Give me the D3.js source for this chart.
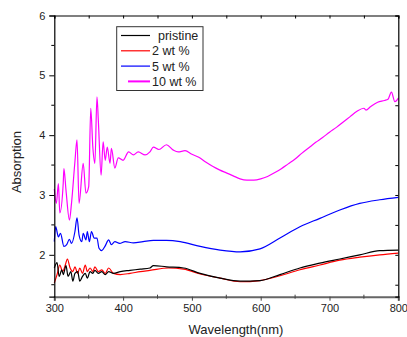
<!DOCTYPE html>
<html>
<head>
<meta charset="utf-8">
<script src="https://cdn.jsdelivr.net/npm/d3@7"></script>
<style>
  body { margin: 0; background: #fff; }
  text { font-family: Arial, "Liberation Sans", sans-serif; fill: #222; }
</style>
</head>
<body>
<div id="chart"></div>
<script>
// series: wavelength (nm) and absorption
const seriesNames = ["pristine", "2 wt %", "5 wt %", "10 wt %"];
const seriesColors = ["#000000", "#ff0000", "#0000ff", "#ff00ff"];

const pristineW = [300, 304, 307, 311, 313, 317, 320, 324, 327, 330, 334, 337, 341, 345, 348, 352, 356, 359, 364, 369, 374, 379, 386, 396, 410, 425, 439, 444, 463, 488, 512, 541, 570, 599, 628, 657, 686, 715, 744, 773, 800];
const pristineA = [1.78, 1.87, 1.64, 1.75, 1.67, 1.82, 1.64, 1.72, 1.56, 1.69, 1.72, 1.56, 1.64, 1.69, 1.61, 1.72, 1.69, 1.74, 1.69, 1.72, 1.67, 1.72, 1.69, 1.72, 1.74, 1.76, 1.78, 1.82, 1.8, 1.78, 1.69, 1.61, 1.56, 1.57, 1.67, 1.78, 1.86, 1.93, 2.0, 2.07, 2.08];

const wt2W = [300, 304, 308, 312, 316, 319, 323, 327, 330, 334, 337, 341, 345, 348, 352, 356, 359, 364, 369, 374, 379, 386, 396, 410, 425, 439, 466, 488, 512, 541, 570, 599, 628, 657, 686, 715, 744, 773, 800];
const wt2A = [1.53, 1.67, 1.83, 1.72, 1.83, 1.93, 1.78, 1.72, 1.8, 1.69, 1.78, 1.69, 1.83, 1.72, 1.78, 1.72, 1.8, 1.72, 1.75, 1.69, 1.78, 1.69, 1.67, 1.69, 1.72, 1.74, 1.78, 1.76, 1.68, 1.61, 1.55, 1.57, 1.65, 1.75, 1.83, 1.91, 1.96, 2.0, 2.03];

const wt5W = [300, 302, 306, 309, 314, 318, 322, 325, 330, 333, 336, 340, 342, 346, 348, 351, 354, 358, 362, 365, 369, 374, 379, 383, 388, 395, 403, 415, 429, 444, 463, 483, 512, 541, 570, 599, 628, 657, 686, 715, 744, 773, 800];
const wt5A = [2.22, 2.47, 2.3, 2.36, 2.14, 2.17, 2.26, 2.19, 2.39, 2.62, 2.33, 2.22, 2.36, 2.25, 2.39, 2.22, 2.39, 2.28, 2.28, 2.11, 2.07, 2.15, 2.25, 2.17, 2.22, 2.19, 2.22, 2.2, 2.22, 2.24, 2.24, 2.22, 2.14, 2.08, 2.05, 2.1, 2.28, 2.47, 2.61, 2.75, 2.86, 2.92, 2.96];

const wt10W = [300, 303, 306, 308, 313, 314, 317, 322, 325, 330, 333, 336, 342, 346, 350, 353, 356, 359, 362, 364, 368, 371, 374, 377, 381, 383, 388, 393, 400, 408, 415, 422, 432, 439, 444, 452, 463, 473, 480, 490, 500, 510, 520, 530, 540, 550, 560, 570, 580, 590, 600, 610, 620, 630, 640, 650, 660, 670, 680, 690, 700, 710, 720, 730, 740, 750, 753, 760, 770, 780, 785, 790, 795, 800];
const wt10A = [3.1, 2.86, 3.19, 2.7, 3.2, 3.44, 3.08, 2.58, 2.86, 3.56, 3.92, 2.86, 3.53, 3.03, 3.14, 4.45, 3.8, 3.53, 4.64, 4.25, 3.33, 3.89, 3.58, 3.8, 3.53, 3.78, 3.45, 3.62, 3.58, 3.72, 3.67, 3.72, 3.67, 3.72, 3.8, 3.76, 3.84, 3.75, 3.72, 3.74, 3.68, 3.63, 3.55, 3.48, 3.42, 3.37, 3.32, 3.27, 3.25, 3.25, 3.27, 3.31, 3.37, 3.44, 3.52, 3.6, 3.7, 3.79, 3.88, 3.96, 4.05, 4.13, 4.22, 4.31, 4.4, 4.45, 4.42, 4.48, 4.55, 4.58, 4.6, 4.72, 4.56, 4.62];

const xTicks = [300, 400, 500, 600, 700, 800];
const yTicks = [2, 3, 4, 5, 6];

const series = [
  { name: seriesNames[0], color: seriesColors[0], w: pristineW, a: pristineA },
  { name: seriesNames[1], color: seriesColors[1], w: wt2W, a: wt2A },
  { name: seriesNames[2], color: seriesColors[2], w: wt5W, a: wt5A },
  { name: seriesNames[3], color: seriesColors[3], w: wt10W, a: wt10A },
];

const width = 407, height = 337;
const plot = { left: 54.3, right: 398.3, top: 15.5, bottom: 296.7 };

const svg = d3.select("#chart").append("svg")
  .attr("width", width)
  .attr("height", height);

const xScale = d3.scaleLinear().domain([300, 800]).range([plot.left, plot.right]);
const yScale = d3.scaleLinear().domain([1.3, 6]).range([plot.bottom, plot.top]);

// curves
const line = d3.line()
  .x((d) => xScale(d[0]))
  .y((d) => yScale(d[1]))
  .curve(d3.curveMonotoneX);
svg.append("g").selectAll("path")
  .data(series.slice().reverse())
  .enter()
  .append("path")
  .attr("fill", "none")
  .attr("stroke", (d) => d.color)
  .attr("stroke-width", 1.2)
  .attr("stroke-linejoin", "round")
  .attr("d", (d) => line(d.w.map((w, i) => [w, d.a[i]])));

// bottom axis
const xAxis = svg.append("g")
  .attr("transform", `translate(0,${plot.bottom})`)
  .call(d3.axisBottom(xScale).tickValues(xTicks).tickSize(4).tickPadding(4).tickFormat(d3.format("d")));
xAxis.select(".domain").attr("stroke", "#666").attr("stroke-width", 2);
xAxis.selectAll(".tick line").attr("stroke", "#444");
xAxis.selectAll("text").attr("font-size", 11).attr("fill", "#222");
xAxis.selectAll(".minor")
  .data(d3.range(350, 800, 100))
  .enter().append("line")
  .attr("x1", (d) => xScale(d)).attr("x2", (d) => xScale(d))
  .attr("y1", -2).attr("y2", 2)
  .attr("stroke", "#444");

// left axis
const yAxis = svg.append("g")
  .attr("transform", `translate(${plot.left},0)`)
  .call(d3.axisLeft(yScale).tickValues(yTicks).tickSize(5).tickPadding(4).tickFormat(d3.format("d")));
yAxis.select(".domain").attr("stroke", "#000").attr("stroke-width", 1.2);
yAxis.selectAll("text").attr("font-size", 11).attr("fill", "#222");
yAxis.selectAll(".minor")
  .data(d3.range(1.5, 6, 1))
  .enter().append("line")
  .attr("x1", -3).attr("x2", 0)
  .attr("y1", (d) => yScale(d)).attr("y2", (d) => yScale(d))
  .attr("stroke", "#000");

// top and right frame with inner ticks
const topAxis = svg.append("g")
  .attr("transform", `translate(0,${plot.top})`)
  .call(d3.axisTop(xScale).tickValues(d3.range(300, 801, 50)).tickSize(-3).tickFormat(""));
topAxis.select(".domain").attr("stroke", "#000").attr("stroke-width", 1.2);

const rightAxis = svg.append("g")
  .attr("transform", `translate(${plot.right},0)`)
  .call(d3.axisRight(yScale).tickValues(d3.range(1.5, 6.01, 0.5)).tickSize(-3).tickFormat(""));
rightAxis.select(".domain").attr("stroke", "#000").attr("stroke-width", 1.2);

// axis titles
svg.append("text")
  .attr("x", 236).attr("y", 334)
  .attr("text-anchor", "middle")
  .attr("font-size", 13)
  .text("Wavelength(nm)");
svg.append("text")
  .attr("transform", "translate(21,162) rotate(-90)")
  .attr("text-anchor", "middle")
  .attr("font-size", 13)
  .text("Absorption");

// legend
const legend = svg.append("g");
legend.append("rect")
  .attr("x", 116.7).attr("y", 26.7)
  .attr("width", 86.3).attr("height", 63.8)
  .attr("fill", "#fff")
  .attr("stroke", "#333")
  .attr("stroke-width", 1);
const rows = legend.selectAll(".row")
  .data(series)
  .enter().append("g")
  .attr("transform", (d, i) => `translate(0,${35.5 + i * 15.3})`);
rows.append("line")
  .attr("x1", (d, i) => i === 3 ? 128 : 121).attr("x2", 150)
  .attr("y1", 0).attr("y2", 0)
  .attr("stroke", (d) => d.color)
  .attr("stroke-width", (d, i) => i === 3 ? 2 : 1.2);
rows.append("text")
  .attr("x", (d, i) => i === 0 ? 158 : 152)
  .attr("y", 4.5)
  .attr("font-size", 12.5)
  .text((d) => d.name);
</script>
</body>
</html>
